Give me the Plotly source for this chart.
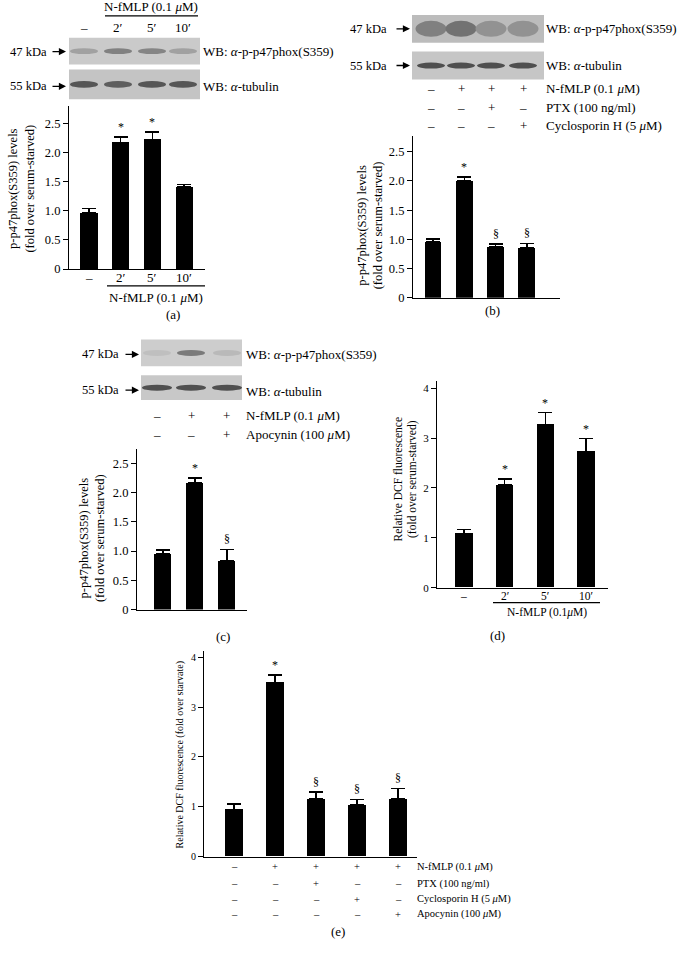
import plotly.graph_objects as go

W, H = 679, 962
FONT = "Liberation Serif"

# (a) p-p47phox(S359) after N-fMLP time course
a_labels = ["–", "2′", "5′", "10′"]
a_vals = [0.96, 2.17, 2.22, 1.41]
a_err = [0.08, 0.09, 0.13, 0.04]
a_marks = ["", "*", "*", ""]

# (b) PTX / cyclosporin H
b_vals = [0.96, 2.00, 0.87, 0.85]
b_err = [0.05, 0.07, 0.05, 0.08]
b_marks = ["", "*", "§", "§"]
b_fmlp = ["–", "+", "+", "+"]
b_ptx = ["–", "–", "+", "–"]
b_csh = ["–", "–", "–", "+"]

# (c) apocynin
c_vals = [0.95, 2.17, 0.84]
c_err = [0.07, 0.08, 0.19]
c_marks = ["", "*", "§"]
c_fmlp = ["–", "+", "+"]
c_apo = ["–", "–", "+"]

# (d) DCF fluorescence time course
d_labels = ["–", "2′", "5′", "10′"]
d_vals = [1.09, 2.06, 3.27, 2.73]
d_err = [0.08, 0.12, 0.24, 0.26]
d_marks = ["", "*", "*", "*"]

# (e) DCF fluorescence with inhibitors
e_vals = [0.95, 3.49, 1.16, 1.04, 1.16]
e_err = [0.11, 0.15, 0.14, 0.11, 0.21]
e_marks = ["", "*", "§", "§", "§"]
e_fmlp = ["–", "+", "+", "+", "+"]
e_ptx = ["–", "–", "+", "–", "–"]
e_csh = ["–", "–", "–", "+", "–"]
e_apo = ["–", "–", "–", "–", "+"]

# western blot band darkness per lane (0 = none, 1 = black)
a_p47 = [0.25, 0.45, 0.42, 0.25]
a_tub = [0.70, 0.65, 0.70, 0.70]
b_p47 = [0.40, 0.50, 0.28, 0.28]
b_tub = [0.75, 0.75, 0.75, 0.75]
c_p47 = [0.08, 0.50, 0.12]
c_tub = [0.75, 0.75, 0.75]


def px(x):
    return x / W


def py(y):
    return 1 - y / H


fig = go.Figure()
annotations = []
shapes = []


def text(x, y, s, size=13, xanchor="center", angle=0, xref="paper"):
    xv = x if xref != "paper" else px(x)
    annotations.append(dict(x=xv, y=py(y), xref=xref, yref="paper", text=s,
                            showarrow=False, xanchor=xanchor, yanchor="middle",
                            borderpad=0, textangle=angle,
                            font=dict(family=FONT, size=size, color="black")))


def hline(x0, x1, y):
    shapes.append(dict(type="line", xref="paper", yref="paper", x0=px(x0), x1=px(x1),
                       y0=py(y), y1=py(y), line=dict(color="black", width=1.2)))


def shade(bg, k):
    v = int(bg - (bg - 40) * k)
    return f"rgb({v},{v},{v})"


def blot(x0, x1, y0, y1, lanes, dark, bg=200, bh=6, bw=28):
    shapes.append(dict(type="rect", xref="paper", yref="paper", x0=px(x0), x1=px(x1),
                       y0=py(y1), y1=py(y0), fillcolor=f"rgb({bg},{bg},{bg})", line_width=0))
    yc = (y0 + y1) / 2
    for lx, k in zip(lanes, dark):
        shapes.append(dict(type="circle", xref="paper", yref="paper",
                           x0=px(lx - bw / 2), x1=px(lx + bw / 2),
                           y0=py(yc + bh / 2), y1=py(yc - bh / 2),
                           fillcolor=shade(bg, k), line_width=0))


def kda(x_text, x_tip, y, s, size=12.5):
    text(x_text, y, s, size, xanchor="right")
    annotations.append(dict(x=px(x_tip), y=py(y), xref="paper", yref="paper", text="",
                            showarrow=True, ax=-15, ay=0, arrowhead=2, arrowsize=1.1,
                            arrowwidth=1.3, arrowcolor="black"))


def bars(n, vals, err, marks, width, capw, msize=12):
    xa = "x" if n == 1 else f"x{n}"
    ya = "y" if n == 1 else f"y{n}"
    xs = list(range(len(vals)))
    fig.add_trace(go.Bar(x=xs, y=vals, width=width, marker=dict(color="black", line_width=0),
                         error_y=dict(type="data", symmetric=False, array=err,
                                      arrayminus=[0] * len(vals), color="black",
                                      thickness=1.5, width=capw),
                         xaxis=xa, yaxis=ya, showlegend=False, hoverinfo="skip"))
    for i, m in enumerate(marks):
        if m:
            annotations.append(dict(x=i, y=vals[i] + err[i], xref=xa, yref=ya, text=m,
                                    showarrow=False, yanchor="bottom", yshift=1,
                                    font=dict(family=FONT, size=msize, color="#000000")))


def cat_labels(n, labels, y, size):
    xa = "x" if n == 1 else f"x{n}"
    for i, lab in enumerate(labels):
        text(i, y, lab, size, xref=xa)


def axes(n, xd, yd, xr, yr, dtick, tsize):
    xd_ = [px(xd[0]), px(xd[1])]
    yd_ = [py(yd[1]), py(yd[0])]
    suffix = "" if n == 1 else str(n)
    xaxis = dict(domain=xd_, range=xr, showline=True, linecolor="black", linewidth=1.2,
                 showgrid=False, zeroline=False, ticks="", showticklabels=False,
                 anchor="y" + suffix, fixedrange=True)
    yaxis = dict(domain=yd_, range=yr, showline=True, linecolor="black", linewidth=1.2,
                 showgrid=False, zeroline=False, ticks="outside", ticklen=5, tickwidth=1,
                 tickcolor="black", dtick=dtick, anchor="x" + suffix, fixedrange=True,
                 tickfont=dict(family=FONT, size=tsize, color="black"))
    if dtick == 0.5:
        yaxis.update(tickmode="array", tickvals=[0, 0.5, 1, 1.5, 2, 2.5],
                     ticktext=["0", "0.5", "1.0", "1.5", "2.0", "2.5"])
    fig.layout["xaxis" + suffix] = xaxis
    fig.layout["yaxis" + suffix] = yaxis


mu = "<i>μ</i>"
alpha = "<i>α</i>"
p47_lbl = f"WB: {alpha}-p-p47phox(S359)"
tub_lbl = f"WB: {alpha}-tubulin"

# ---------- panel (a)
text(151, 7, f"N-fMLP (0.1 {mu}M)", 13)
hline(105, 198, 16)
for lx, lab in zip([84, 118, 152, 183], a_labels):
    text(lx, 28, lab, 13)
blot(69, 200, 38, 65, [84, 118, 152, 183], a_p47, bg=202, bh=6)
blot(69, 200, 70, 100, [84, 118, 152, 183], a_tub, bg=196, bh=7)
kda(48, 66, 52, "47 kDa")
kda(48, 66, 87, "55 kDa")
text(202, 52, p47_lbl, 13, xanchor="left")
text(202, 87, tub_lbl, 13, xanchor="left")
axes(1, (69, 205), (107, 271), [-0.63, 3.66], [0, 2.79], 0.5, 12.5)
bars(1, a_vals, a_err, a_marks, 0.54, 7)
cat_labels(1, a_labels, 280, 13)
hline(107, 205, 288)
text(156, 300, f"N-fMLP (0.1 {mu}M)", 13)
text(21, 190, "p-p47phox(S359) levels<br>(fold over serum-starved)", 12.5, angle=-90)
text(173, 317, "(a)", 13)

# ---------- panel (b)
b_lanes = [431, 461, 491, 523]
blot(412, 544, 15, 43, b_lanes, b_p47, bg=188, bh=16, bw=31)
blot(412, 544, 52, 80, b_lanes, b_tub, bg=198, bh=6)
kda(388, 410, 29, "47 kDa")
kda(388, 410, 66, "55 kDa")
text(545, 29, p47_lbl, 13, xanchor="left")
text(545, 66, tub_lbl, 13, xanchor="left")
for row, y, lab in [(b_fmlp, 89, f"N-fMLP (0.1 {mu}M)"), (b_ptx, 108, "PTX (100 ng/ml)"),
                    (b_csh, 126, f"Cyclosporin H (5 {mu}M)")]:
    for lx, s in zip(b_lanes, row):
        text(lx, y, s, 13)
    text(545, y, lab, 13, xanchor="left")
axes(2, (413, 560), (137, 300), [-0.64, 4.06], [0, 2.77], 0.5, 12.5)
bars(2, b_vals, b_err, b_marks, 0.54, 7)
text(370, 227, "p-p47phox(S359) levels<br>(fold over serum-starved)", 12.5, angle=-90)
text(492, 313, "(b)", 13)

# ---------- panel (c)
c_lanes = [157, 191, 227]
blot(141, 242, 342, 369, c_lanes, c_p47, bg=205, bh=6, bw=28)
blot(141, 242, 378, 403, c_lanes, c_tub, bg=200, bh=6, bw=30)
kda(120, 139, 357, "47 kDa")
kda(120, 139, 393, "55 kDa")
text(245, 357, p47_lbl, 13, xanchor="left")
text(245, 394, tub_lbl, 13, xanchor="left")
for row, y, lab in [(c_fmlp, 419, f"N-fMLP (0.1 {mu}M)"), (c_apo, 438, f"Apocynin (100 {mu}M)")]:
    for lx, s in zip(c_lanes, row):
        text(lx, y, s, 13)
    text(245, y, lab, 13, xanchor="left")
axes(3, (137, 247), (452, 614), [-0.81, 2.63], [0, 2.75], 0.5, 12.5)
bars(3, c_vals, c_err, c_marks, 0.53, 7)
text(92, 542, "p-p47phox(S359) levels<br>(fold over serum-starved)", 12.5, angle=-90)
text(223, 641, "(c)", 13)

# ---------- panel (d)
axes(4, (437, 608), (384, 592), [-0.66, 3.54], [0, 4.14], 1, 11)
bars(4, d_vals, d_err, d_marks, 0.43, 7, 12)
cat_labels(4, d_labels, 600, 11.5)
hline(493, 600, 607)
text(547, 617, f"N-fMLP (0.1{mu}M)", 11.5)
text(406, 483, "Relative DCF fluorescence<br>(fold over serum-starved)", 11.5, angle=-90)
text(498, 640, "(d)", 13)

# ---------- panel (e)
e_lanes = [234, 275, 316, 357, 398]
axes(5, (204, 417), (656, 863), [-0.73, 4.47], [0, 4.12], 1, 10)
bars(5, e_vals, e_err, e_marks, 0.43, 7, 12)
for row, y, lab in [(e_fmlp, 873, f"N-fMLP (0.1 {mu}M)"), (e_ptx, 890, "PTX (100 ng/ml)"),
                    (e_csh, 906, f"Cyclosporin H (5 {mu}M)"), (e_apo, 921, f"Apocynin (100 {mu}M)")]:
    for lx, s in zip(e_lanes, row):
        text(lx, y, s, 10.5)
    text(416, y, lab, 10.5, xanchor="left")
text(180, 761, "Relative DCF fluorescence (fold over starvate)", 10, angle=-90)
text(338, 938, "(e)", 13)

fig.update_layout(width=W, height=H, margin=dict(l=0, r=0, t=0, b=0),
                  paper_bgcolor="white", plot_bgcolor="white", bargap=0,
                  font=dict(family=FONT, color="black"), hovermode=False,
                  annotations=annotations, shapes=shapes)

# page body has an 8px default margin; drop it so the figure sits at the window corner
fig.write_html("out.html", config={"displayModeBar": False},
               post_script="document.body.style.margin='0';")
